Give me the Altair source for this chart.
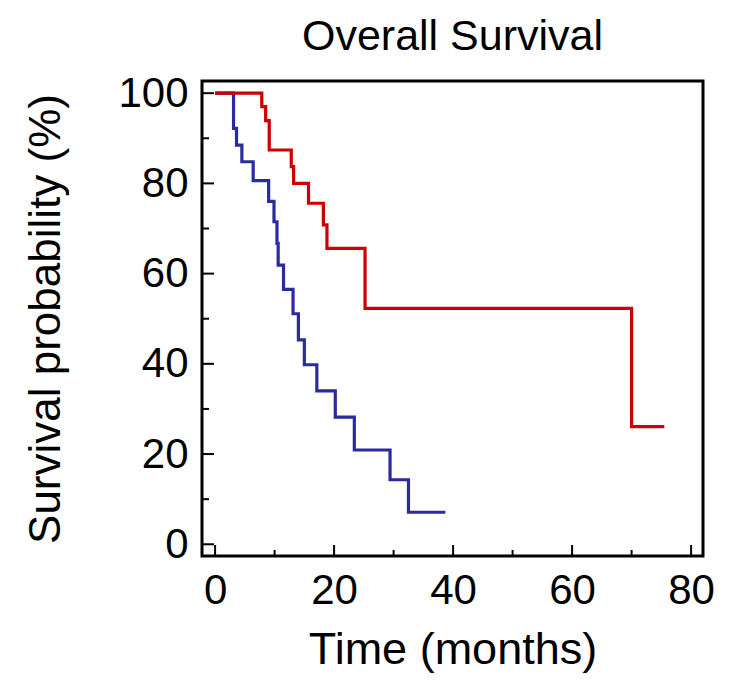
import altair as alt
import pandas as pd

# Kaplan-Meier step data
red_time = [0, 7.85, 8.5, 9.1, 12.8, 13.2, 15.7, 18.2, 18.8, 25.2, 70.0, 75.5]
red_surv = [100, 97.0, 93.9, 87.4, 83.7, 80.0, 75.6, 70.8, 65.6, 52.3, 26.1, 26.1]

blue_time = [0, 3.1, 3.6, 4.5, 6.4, 9.0, 9.9, 10.4, 10.6, 11.5, 13.1, 14.0, 15.0,
             17.1, 20.2, 23.4, 29.4, 32.5, 38.7]
blue_surv = [100, 92.2, 88.5, 84.8, 80.6, 76.0, 71.5, 66.7, 61.9, 56.5, 51.1, 45.3,
             39.8, 34.0, 28.2, 20.9, 14.3, 7.1, 7.1]

x_major = [0, 20, 40, 60, 80]
x_minor = [10, 30, 50, 70]
y_major = [0, 20, 40, 60, 80, 100]
y_minor = [10, 30, 50, 70, 90]

W, H = 501, 475
FONT = "Liberation Sans"

df = pd.concat([
    pd.DataFrame({"time": blue_time, "surv": blue_surv, "group": "B", "order": range(len(blue_time))}),
    pd.DataFrame({"time": red_time, "surv": red_surv, "group": "A", "order": range(len(red_time))}),
])

xscale = alt.Scale(domain=[-2.2, 82], nice=False, zero=False)
yscale = alt.Scale(domain=[-2.6, 102.7], nice=False, zero=False)

xaxis = alt.Axis(values=x_major, ticks=False, domain=False, grid=False,
                 labelFontSize=42, labelPadding=14, labelFont=FONT,
                 labelColor="black", title="Time (months)", titleFont=FONT,
                 titleFontSize=45, titleFontWeight="normal", titleColor="black",
                 titleBaseline="alphabetic", titleY=107)
yaxis = alt.Axis(values=y_major, ticks=False, domain=False, grid=False,
                 labelFontSize=42, labelPadding=14, labelFont=FONT,
                 labelColor="black", title="Survival probability (%)",
                 titleFont=FONT, titleFontSize=44, titleFontWeight="normal",
                 titleColor="black", titleBaseline="alphabetic", titleX=-143)

lines = alt.Chart(df).mark_line(interpolate="step-after", strokeWidth=3.2).encode(
    x=alt.X("time:Q", scale=xscale, axis=xaxis, title="Time (months)"),
    y=alt.Y("surv:Q", scale=yscale, axis=yaxis, title="Survival probability (%)"),
    color=alt.Color("group:N", scale=alt.Scale(domain=["A", "B"], range=["#cc0000", "#2b2ba0"]),
                    legend=None),
    detail="group:N",
    order="order:Q",
)

def xticks(vals, length):
    return alt.Chart(pd.DataFrame({"v": vals})).mark_rule(color="black", strokeWidth=2).encode(
        x=alt.X("v:Q", scale=xscale, axis=xaxis, title="Time (months)"),
        y=alt.value(H), y2=alt.value(H - length))

def yticks(vals, length):
    return alt.Chart(pd.DataFrame({"v": vals})).mark_rule(color="black", strokeWidth=2).encode(
        y=alt.Y("v:Q", scale=yscale, axis=yaxis, title="Survival probability (%)"),
        x=alt.value(0), x2=alt.value(length))

chart = alt.layer(
    lines, xticks(x_major, 11), xticks(x_minor, 6), yticks(y_major, 12), yticks(y_minor, 7)
).properties(
    width=W, height=H,
    title=alt.TitleParams("Overall Survival", font=FONT, fontSize=43, fontWeight="normal",
                          color="black", anchor="middle", baseline="alphabetic",
                          offset=21, dy=42),
    autosize=alt.AutoSizeParams(type="none"),
    padding={"left": 194, "top": 73, "right": 30, "bottom": 120},
).configure_view(stroke="black", strokeWidth=3)

chart.save("out.html", embed_options={"renderer": "svg", "actions": False})
